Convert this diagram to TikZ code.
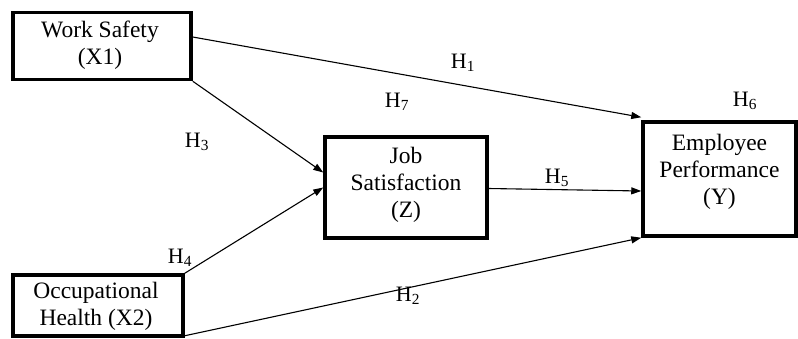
\documentclass[tikz,border=0pt]{standalone}
\usepackage{fontspec}
\setmainfont{Liberation Serif}
\usetikzlibrary{arrows.meta,calc}
\begin{document}
\begin{tikzpicture}[x=1pt,y=-1pt,
  box/.style={draw,line width=3.5pt,inner sep=0pt},
  txt/.style={align=center,font=\fontsize{23.5}{27}\selectfont,inner sep=0pt},
  hl/.style={font=\fontsize{22}{24}\selectfont,inner sep=0pt},
  arr/.style={line width=1.1pt,-{Triangle[length=10pt,width=7pt]}}]
\useasboundingbox (0,0) rectangle (798,338);
% boxes
\node[box,minimum width=178pt,minimum height=67pt] (ws) at (102,46) {};
\node[txt] (wst) at (100,45) {Work Safety\\(X1)};
\node[box,minimum width=170pt,minimum height=61pt] (oh) at (98,305.5) {};
\node[txt] (oht) at (96,306) {Occupational\\Health (X2)};
\node[box,minimum width=162pt,minimum height=101pt] (js) at (406,187.5) {};
\node[txt] (jst) at (406,185) {Job\\Satisfaction\\(Z)};
\node[box,minimum width=153pt,minimum height=114pt] (ep) at (719.5,179) {};
\node[txt] (ept) at (719.5,172) {Employee\\Performance\\(Y)};
% connector end points
\coordinate (a1) at ($(ws.east)+(0,-9)$);
\coordinate (b1) at ($(ep.north west)+(0,-3)$);
\coordinate (a3) at (ws.south east);
\coordinate (b3) at ($(js.west)+(0,-15)$);
\coordinate (a4) at (oh.north east);
\coordinate (b4) at ($(js.west)+(0,0)$);
\coordinate (a5) at ($(js.east)+(0,1)$);
\coordinate (b5) at ($(ep.west)+(0,12)$);
\coordinate (a2) at ($(oh.south east)+(0,-2)$);
\coordinate (b2) at ($(ep.south west)+(0,0)$);
% connectors
\draw[arr] (a1) -- (b1);
\draw[arr] (a3) -- (b3);
\draw[arr] (a4) -- (b4);
\draw[arr] (a5) -- (b5);
\draw[arr] (a2) -- (b2);
% labels
\node[hl] (h1) at (463,63) {H\textsubscript{1}};
\node[hl] (h7) at (397,102) {H\textsubscript{7}};
\node[hl] (h3) at (197,142) {H\textsubscript{3}};
\node[hl] (h4) at (180,258) {H\textsubscript{4}};
\node[hl] (h5) at (557,178) {H\textsubscript{5}};
\node[hl] (h6) at (745,101) {H\textsubscript{6}};
\node[hl] (h2) at (408,296) {H\textsubscript{2}};
\end{tikzpicture}
\end{document}
